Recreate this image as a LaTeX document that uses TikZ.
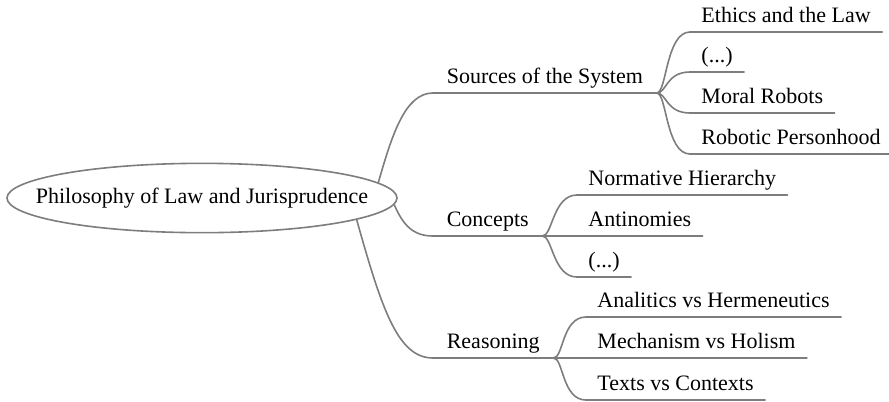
\documentclass[tikz,border=0pt]{standalone}
\usepackage{fontspec}
\setmainfont{Liberation Serif}
\usetikzlibrary{shapes.geometric,calc}

\definecolor{linegray}{RGB}{125,125,125}
\tikzset{every picture/.style={line width=1.2pt}}
\tikzset{
  topic/.style={ellipse, draw=linegray, minimum width=292.5pt, minimum height=52pt, inner xsep=-22pt, inner ysep=0pt, font=\fontsize{16.5}{20}\selectfont},
  branch/.style={anchor=south west, inner xsep=9.75pt, inner ysep=6.75pt, text depth=0pt, font=\fontsize{16.5}{20}\selectfont},
  leaf/.style={branch, inner xsep=8pt, inner ysep=6.25pt},
  link/.style={draw=linegray, line cap=round}
}

\begin{document}
\begin{tikzpicture}[x=0.75pt,y=0.75pt,yscale=-1,xscale=1]
\useasboundingbox (0,0) rectangle (889,401);

% Central topic
\node[topic] (root) at (202,198) {Philosophy of Law and Jurisprudence};

% Main branches
\node[branch] (src) at (433,93) {Sources of the System};
\node[branch] (con) at (433,236) {Concepts};
\node[branch] (rea) at (433,358) {Reasoning};

% Leaves of Sources of the System
\node[leaf] (eth) at (690,32) {Ethics and the Law};
\node[leaf] (srcdots) at (690,72) {(...)};
\node[leaf] (mor) at (690,113) {Moral Robots};
\node[leaf] (rob) at (690,154) {Robotic Personhood};

% Leaves of Concepts
\node[leaf] (nor) at (577,195) {Normative Hierarchy};
\node[leaf] (ant) at (577,236) {Antinomies};
\node[leaf] (condots) at (577,277) {(...)};

% Leaves of Reasoning
\node[leaf] (ana) at (586,317) {Analitics vs Hermeneutics};
\node[leaf] (mec) at (586,358) {Mechanism vs Holism};
\node[leaf] (tex) at (586,400) {Texts vs Contexts};

% Underlines
\foreach \n in {src,con,rea,eth,srcdots,mor,rob,nor,ant,condots,ana,mec,tex}
  \draw[link] (\n.south west) -- (\n.south east);

% Root to main branches
\draw[link] (root.5) .. controls (392,135) and (405,93) .. (src.south west);
\draw[link] (root.-2) .. controls (403,225) and (413,236) .. (con.south west);
\draw[link] (root.-8.5) .. controls (382,310) and (398,358) .. (rea.south west);

% Forks to leaves
\foreach \p/\c in {src/eth,src/srcdots,src/mor,src/rob,con/nor,con/ant,con/condots,rea/ana,rea/mec,rea/tex}
  \draw[link] (\p.south east) .. controls ($(\p.south east)+(10,0)$) and ($(\c.south west)+(-24,0)$) .. (\c.south west);

\end{tikzpicture}
\end{document}
